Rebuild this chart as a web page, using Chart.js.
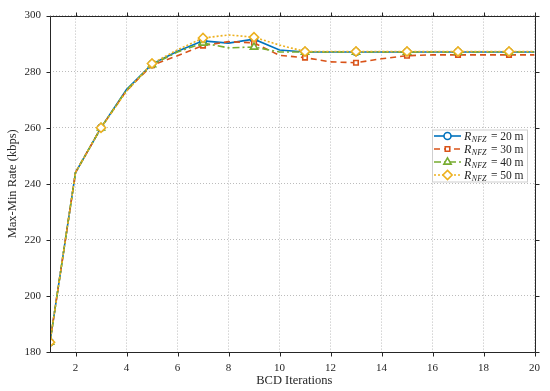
<!DOCTYPE html>
<html>
<head>
<meta charset="utf-8">
<script src="https://cdn.jsdelivr.net/npm/chart.js@4/dist/chart.umd.min.js"></script>
<style>
html,body{margin:0;padding:0;background:#fff;}
#wrap{width:550px;height:391px;}
</style>
</head>
<body>
<div id="wrap"><canvas id="c" width="550" height="391"></canvas></div>
<script>
const iterations = [1,2,3,4,5,6,7,8,9,10,11,12,13,14,15,16,17,18,19,20];
const rate20 = [183.5,244,260,273.6,282.7,287.3,291.0,290.2,291.6,287.7,287.0,287.0,287.0,287.0,287.0,287.0,287.0,287.0,287.0,287.0];
const rate30 = [183.5,244,260,273.2,282.3,285.7,289.3,290.7,290.3,285.8,285.0,283.5,283.2,284.6,285.7,286.0,286.0,286.0,286.0,286.0];
const rate40 = [183.5,244,260,273.4,282.5,287.0,290.2,288.5,288.8,287.0,287.0,287.0,287.0,287.0,287.0,287.0,287.0,287.0,287.0,287.0];
const rate50 = [183.5,244,260,273.0,282.9,287.8,292.0,293.1,292.3,289.5,287.2,287.2,287.2,287.2,287.2,287.2,287.2,287.2,287.2,287.2];
const xTickValues = [2,4,6,8,10,12,14,16,18,20];
const yTickValues = [180,200,220,240,260,280,300];
const seriesNames = ['20 m','30 m','40 m','50 m'];

const COLORS = ['#0072BD','#D95319','#77AC30','#EDB120'];
const DASHES = [[], [6,4], [7,3,2,3], [2,2]];
const SHAPES = ['circle','rect','triangle','rectRot'];
const RADII = [3.5,3.2,4.2,4.6];
const AXIS = '#262626';
const FONT = '"Liberation Serif", "DejaVu Serif", serif';

function mk(i, data, order){
  return {
    label: seriesNames[i],
    data: iterations.map((x,k)=>({x:x, y:data[k]})),
    borderColor: COLORS[i],
    backgroundColor: '#ffffff',
    borderWidth: 1.6,
    borderDash: DASHES[i],
    pointStyle: SHAPES[i],
    pointRadius: iterations.map((x,k)=> k%2===0 ? RADII[i] : 0),
    pointBorderWidth: 1.6,
    pointBackgroundColor: '#ffffff',
    pointBorderColor: COLORS[i],
    tension: 0,
    order: order
  };
}

function drawMarker(ctx, shape, x, y, r, color){
  ctx.save();
  ctx.setLineDash([]);
  ctx.strokeStyle = color; ctx.fillStyle = '#fff'; ctx.lineWidth = 1.6;
  ctx.beginPath();
  if(shape==='circle'){ ctx.arc(x,y,r,0,Math.PI*2); }
  else if(shape==='rect'){ const s=r/Math.SQRT2*1.0; ctx.rect(x-s,y-s,2*s,2*s); }
  else if(shape==='triangle'){ ctx.moveTo(x, y-r); ctx.lineTo(x+r*0.866, y+r*0.5); ctx.lineTo(x-r*0.866, y+r*0.5); ctx.closePath(); }
  else { ctx.moveTo(x,y-r); ctx.lineTo(x+r,y); ctx.lineTo(x,y+r); ctx.lineTo(x-r,y); ctx.closePath(); }
  ctx.fill(); ctx.stroke();
  ctx.restore();
}

const decor = {
  id: 'decor',
  afterDraw(chart){
    const ctx = chart.ctx;
    const a = chart.chartArea;
    const xs = chart.scales.x, ys = chart.scales.y;
    ctx.save();
    // box
    ctx.strokeStyle = AXIS; ctx.lineWidth = 1; ctx.setLineDash([]);
    const L = Math.round(a.left)+0.5, R = Math.round(a.right)+0.5, T = Math.round(a.top)+0.5, B = Math.round(a.bottom)+0.5;
    ctx.beginPath(); ctx.rect(L, T, R-L, B-T); ctx.stroke();
    // ticks outward
    const tl = 4;
    ctx.beginPath();
    xTickValues.forEach(v=>{
      const px = Math.round(xs.getPixelForValue(v))+0.5;
      ctx.moveTo(px, B); ctx.lineTo(px, B+tl);
      ctx.moveTo(px, T); ctx.lineTo(px, T-tl);
    });
    yTickValues.forEach(v=>{
      const py = Math.round(ys.getPixelForValue(v))+0.5;
      ctx.moveTo(L, py); ctx.lineTo(L-tl, py);
      ctx.moveTo(R, py); ctx.lineTo(R+tl, py);
    });
    ctx.stroke();
    // axis titles
    ctx.fillStyle = AXIS;
    ctx.font = '12.5px ' + FONT;
    ctx.textAlign = 'center'; ctx.textBaseline = 'middle';
    ctx.fillText('BCD Iterations', (a.left+a.right)/2 + 2, 381);
    ctx.save();
    ctx.translate(13, (a.top+a.bottom)/2);
    ctx.rotate(-Math.PI/2);
    ctx.fillText('Max-Min Rate (kbps)', 0, 0);
    ctx.restore();
    // legend
    const bx = 432, by = 129.5, bw = 95, bh = 52;
    ctx.fillStyle = '#fff';
    ctx.fillRect(bx, by, bw, bh);
    ctx.strokeStyle = '#cfcfcf'; ctx.lineWidth = 1;
    ctx.strokeRect(bx+0.5, by+0.5, bw, bh);
    const rows = [136, 149, 162, 175];
    for(let i=0;i<4;i++){
      const y = rows[i];
      ctx.save();
      ctx.strokeStyle = COLORS[i]; ctx.lineWidth = 1.6; ctx.setLineDash(DASHES[i]);
      ctx.beginPath(); ctx.moveTo(434, y); ctx.lineTo(461, y); ctx.stroke();
      ctx.restore();
      drawMarker(ctx, SHAPES[i], 447.5, y, RADII[i], COLORS[i]);
      ctx.fillStyle = AXIS;
      ctx.textAlign = 'left'; ctx.textBaseline = 'alphabetic';
      let x = 464;
      ctx.font = 'italic 12px ' + FONT;
      ctx.fillText('R', x, y+4);
      x += ctx.measureText('R').width;
      ctx.font = 'italic 8px ' + FONT;
      ctx.fillText('NFZ', x+0.5, y+6);
      x += ctx.measureText('NFZ').width + 2;
      ctx.font = '11.5px ' + FONT;
      ctx.fillText(' = ' + seriesNames[i], x, y+4);
    }
    ctx.restore();
  }
};

const gridOpts = {
  color: '#bcbcbc',
  lineWidth: 1,
  drawTicks: false
};

new Chart(document.getElementById('c'), {
  type: 'line',
  data: {
    datasets: [ mk(0, rate20, 3), mk(1, rate30, 2), mk(2, rate40, 1), mk(3, rate50, 0) ]
  },
  options: {
    responsive: false,
    animation: false,
    devicePixelRatio: 1,
    layout: { padding: { left: 0, right: 15, top: 11, bottom: 0 } },
    plugins: { legend: { display: false }, tooltip: { enabled: false } },
    scales: {
      x: {
        type: 'linear', min: 1, max: 20,
        afterBuildTicks(scale){ scale.ticks = xTickValues.map(v=>({value:v})); },
        afterFit(scale){ scale.height = 39; },
        grid: Object.assign({}, gridOpts),
        border: { display: false, dash: [1,2] },
        ticks: { color: AXIS, font: { family: FONT, size: 11 }, padding: 10, maxRotation: 0, autoSkip: false }
      },
      y: {
        min: 180, max: 300,
        afterBuildTicks(scale){ scale.ticks = yTickValues.map(v=>({value:v})); },
        afterFit(scale){ scale.width = 50; },
        grid: Object.assign({}, gridOpts),
        border: { display: false, dash: [1,2] },
        ticks: { color: AXIS, font: { family: FONT, size: 11 }, padding: 9 }
      }
    }
  },
  plugins: [decor]
});
</script>
</body>
</html>
